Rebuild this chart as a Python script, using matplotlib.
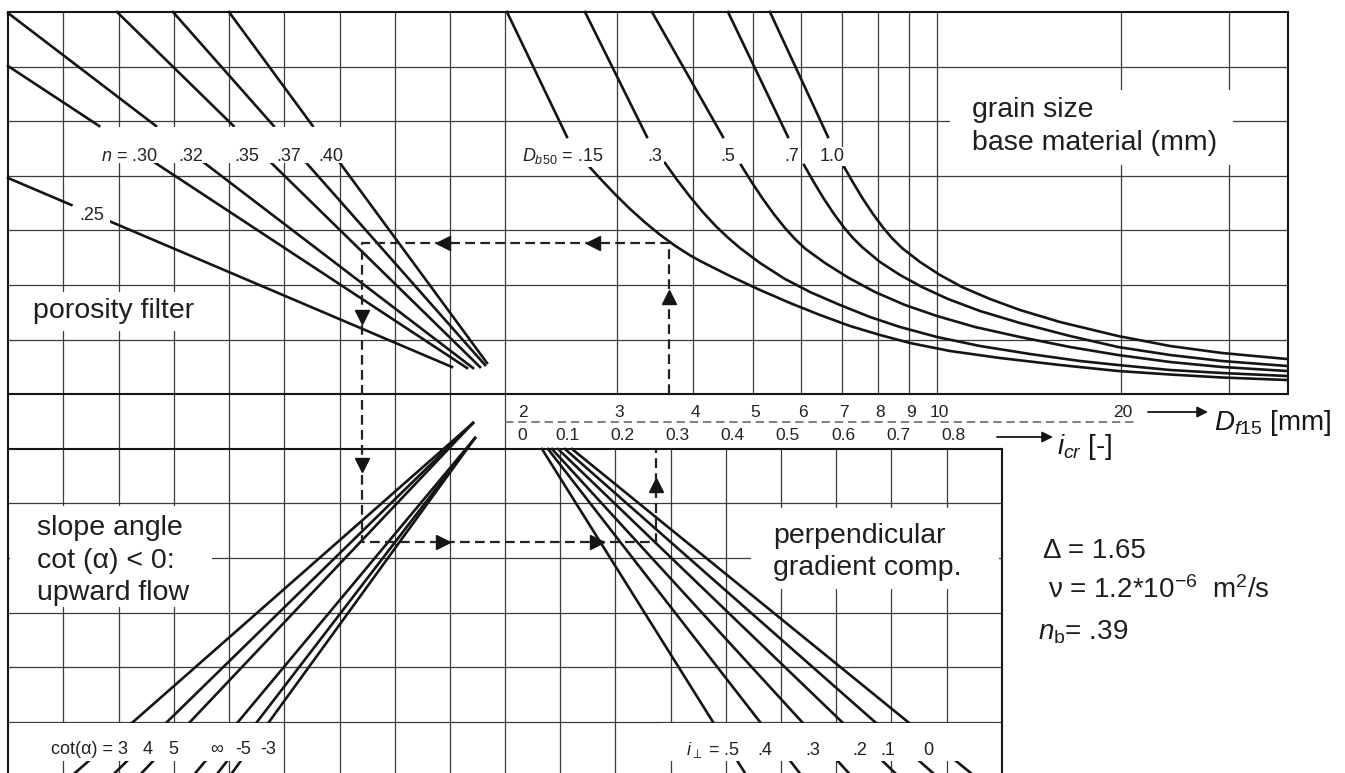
import numpy as np
import matplotlib.pyplot as plt
from matplotlib.patches import Rectangle

plt.rcParams['font.family'] = ['Liberation Sans', 'DejaVu Sans']
plt.rcParams['mathtext.fontset'] = 'custom'
plt.rcParams['mathtext.rm'] = 'Liberation Sans'
plt.rcParams['mathtext.it'] = 'Liberation Sans:italic'
plt.rcParams['mathtext.sf'] = 'Liberation Sans'
plt.rcParams['lines.scale_dashes'] = False

# ---- values (picture units, px from top left) ----

# porosity filter n: straight lines, start -> end
por_labels = ['.25', '.30', '.32', '.35', '.37', '.40']
por_x0 = [8, 8, 8, 117, 173, 229]
por_y0 = [178, 66, 13, 12, 12, 12]
por_x1 = [452, 467, 473, 480, 485, 487]
por_y1 = [367, 368, 368, 367, 365, 363]

# grain size base material D_b50 (mm); first two points are the part above the labels
db_labels = ['.15', '.3', '.5', '.7', '1.0']
db_x = [
    [507, 567, 586, 600, 615, 630, 645, 660, 675, 690, 700, 730, 760, 790, 820, 850, 880, 910, 950, 1000, 1060, 1118, 1170, 1222, 1287],
    [585, 647, 665, 677, 690, 703, 716, 728, 740, 760, 785, 810, 840, 870, 900, 937, 980, 1030, 1080, 1118, 1170, 1222, 1287],
    [652, 723, 741, 752, 763, 774, 785, 795, 805, 825, 848, 875, 905, 937, 975, 1020, 1070, 1118, 1170, 1222, 1287],
    [728, 788, 804, 814, 824, 834, 844, 853, 862, 880, 900, 922, 948, 980, 1020, 1070, 1118, 1170, 1222, 1287],
    [770, 828, 843, 853, 863, 873, 883, 892, 902, 920, 940, 962, 990, 1020, 1060, 1118, 1170, 1222, 1287],
]
db_y = [
    [12, 137, 163, 178.4, 194.2, 208.9, 222.4, 234.7, 245.7, 255.3, 260.9, 276, 290, 303, 315, 326, 335, 343, 351, 358, 365, 371, 374.5, 377.5, 380],
    [12, 137, 163, 179.8, 196.7, 212.3, 226.3, 237.7, 248, 263, 279, 292, 305, 317, 327, 337, 346, 354, 361, 365, 370, 373, 376],
    [12, 137, 165, 182.6, 199.1, 214.3, 228, 239, 248.5, 263, 277.5, 292, 305, 316, 327, 337, 347, 355, 362, 367, 371],
    [12, 137, 165, 182.5, 199, 214, 227.5, 238.1, 247, 262, 275, 287, 299, 311, 323, 336, 347, 355, 361, 366],
    [12, 137, 165, 182.5, 199, 214, 227.5, 238.1, 248, 262, 275, 287, 299, 310, 322, 336, 346, 353, 359],
]

# axes D_f15 (mm) and i_cr (-)
df_ticks = [2, 3, 4, 5, 6, 7, 8, 9, 10, 20]
df_grid = [3, 4, 5, 6, 7, 8, 9, 10, 20, 30]
icr_ticks = [0, 0.1, 0.2, 0.3, 0.4, 0.5, 0.6, 0.7, 0.8]

# slope angle cot(alpha): tip -> foot on row y=722
cot_labels = ['3', '4', '5', '\u221e', '-5', '-3']
cot_tip_x = [473, 473, 473, 475, 475, 475]
cot_tip_y = [423, 423, 423, 438, 438, 438]
cot_foot_x = [133, 167, 190, 238, 257, 269]

# perpendicular gradient component: top (y=449) -> foot (y=722)
ip_labels = ['.5', '.4', '.3', '.2', '.1', '0']
ip_top_x = [542, 548, 552, 558, 565, 572]
ip_foot_x = [713, 760, 802, 842, 875, 908]

# worked example
ex_df15 = 3.65
ex_icr = 0.26
ex_left_x = 362
ex_top_y = 243
ex_low_y = 542


def df_to_x(d):
    return 937 + 612 * np.log10(np.asarray(d, dtype=float) / 10.0)


def icr_to_x(i):
    return 512 + 552 * np.asarray(i, dtype=float)


ink = '#151515'
grid_c = '#3a3a3a'

fig = plt.figure(figsize=(13.45, 7.73), dpi=100)
ax = fig.add_axes([0, 0, 1, 1])
ax.set_xlim(0, 1345)
ax.set_ylim(773, 0)
ax.axis('off')

# grid
row_y = 12 + 54.6 * np.arange(14)
left_x = 8 + 55.25 * np.arange(10)
low_x = 505 + 55.2 * np.arange(10)
for k, y in enumerate(row_y):
    x_end = 1288 if k <= 7 else 1002
    big = k in (0, 7, 8)
    ax.plot([8, x_end], [y, y], color=ink if big else grid_c, lw=1.5 if big else 0.9,
            zorder=4 if big else 1, solid_capstyle='butt')
for k, x in enumerate(left_x):
    ax.plot([x, x], [12, 790], color=ink if k == 0 else grid_c, lw=1.5 if k == 0 else 0.9,
            zorder=4 if k == 0 else 1)
for x in df_to_x(df_grid):
    ax.plot([x, x], [12, row_y[7]], color=grid_c, lw=0.9, zorder=1)
ax.plot([1288, 1288], [12, row_y[7]], color=ink, lw=1.5, zorder=4)
for k, x in enumerate(low_x[1:]):
    last = k == len(low_x) - 2
    ax.plot([x, x], [row_y[8], 790], color=ink if last else grid_c, lw=1.5 if last else 0.9,
            zorder=4 if last else 1)

# porosity lines, broken at the label row
for k in range(len(por_labels)):
    x0, y0, x1, y1 = por_x0[k], por_y0[k], por_x1[k], por_y1[k]
    g0, g1 = (205, 221) if k == 0 else (126, 163)
    xa = x0 + (g0 - y0) / (y1 - y0) * (x1 - x0)
    xb = x0 + (g1 - y0) / (y1 - y0) * (x1 - x0)
    ax.plot([x0, xa], [y0, g0], color=ink, lw=1.9, zorder=2)
    ax.plot([xb, x1], [g1, y1], color=ink, lw=1.9, zorder=2)

# D_b50 curves
for xs, ys in zip(db_x, db_y):
    ax.plot(xs[:2], ys[:2], color=ink, lw=1.9, zorder=2)
    ax.plot(xs[2:], ys[2:], color=ink, lw=1.9, zorder=2, solid_joinstyle='round')

# slope angle lines, run past the bottom edge
for k in range(len(cot_labels)):
    tx, ty, fx = cot_tip_x[k], cot_tip_y[k], cot_foot_x[k]
    ex = tx + (fx - tx) * (790 - ty) / (722 - ty)
    ax.plot([tx, ex], [ty, 790], color=ink, lw=1.9, zorder=2)

# perpendicular gradient lines
for k in range(len(ip_labels)):
    tx, fx = ip_top_x[k], ip_foot_x[k]
    ex = tx + (fx - tx) * (790 - 449) / (722 - 449)
    ax.plot([tx, ex], [449, 790], color=ink, lw=1.9, zorder=2)

# white label boxes cutting the grid
masks = [(100, 127, 345, 163), (74, 203, 110, 225), (28, 292, 202, 331),
         (950, 90, 1233, 165), (10, 506, 212, 607), (751, 508, 999, 589),
         (10, 723, 281, 761), (662, 723, 999, 761)]
for x0, y0, x1, y1 in masks:
    ax.add_patch(Rectangle((x0, y0), x1 - x0, y1 - y0, facecolor='white',
                           edgecolor='none', zorder=3))

# worked example (dashed path with arrow heads)
px = float(df_to_x(ex_df15))
ix = float(icr_to_x(ex_icr))
path_x = [px, px, ex_left_x, ex_left_x, ix, ix]
path_y = [row_y[7], ex_top_y, ex_top_y, ex_low_y, ex_low_y, row_y[8]]
ax.plot(path_x, path_y, color='#222222', lw=1.6, dashes=(7, 3.8), zorder=4)
heads = [(px, 297, '^'), (593, ex_top_y, '<'), (443, ex_top_y, '<'),
         (ex_left_x, 317, 'v'), (ex_left_x, 465, 'v'),
         (443, ex_low_y, '>'), (597, ex_low_y, '>'), (ix, 485, '^')]
for hx, hy, m in heads:
    ax.plot(hx, hy, marker=m, ms=10, color=ink, mec=ink, zorder=5)

# D_f15 / i_cr scale in the middle band
ax.plot([505, 1138], [422, 422], color='#6a6a6a', lw=1.2, dashes=(6, 3.5), zorder=2)
for k, (d, x) in enumerate(zip(df_ticks, df_to_x(df_ticks))):
    if k == 0:
        ax.text(518, 417, str(d), fontsize=12.5, ha='left', va='baseline', color='#222')
    else:
        ax.text(x + 2, 417, str(d), fontsize=12.5, ha='center', va='baseline', color='#222')
for k, (i, x) in enumerate(zip(icr_ticks, icr_to_x(icr_ticks))):
    lab = '0' if i == 0 else '%.1f' % i
    if k == 0:
        ax.text(517, 440, lab, fontsize=12.5, ha='left', va='baseline', color='#222')
    else:
        ax.text(x, 440, lab, fontsize=12.5, ha='center', va='baseline', color='#222')

ax.annotate('', xy=(1208, 412), xytext=(1148, 412),
            arrowprops=dict(arrowstyle='-|>', color=ink, lw=1.3, mutation_scale=16,
                            shrinkA=0, shrinkB=0), zorder=5)
ax.annotate('', xy=(1053, 437), xytext=(997, 437),
            arrowprops=dict(arrowstyle='-|>', color=ink, lw=1.3, mutation_scale=16,
                            shrinkA=0, shrinkB=0), zorder=5)
ax.text(1214, 430, r'$D_{\mathit{f15}}$ [mm]', fontsize=20, va='baseline', color=ink, zorder=5)
ax.text(1057, 454, r'$i_{cr}$ [-]', fontsize=20, va='baseline', color=ink, zorder=5)

# line labels
lab_fs = 13
por_lab_x = [92, 158, 191, 247, 289, 331]
por_lab_y = [220, 161, 161, 161, 161, 161]
for k, lab in enumerate(por_labels):
    if k == 1:
        ax.text(por_lab_x[k], por_lab_y[k], r'$n$ = ' + lab, fontsize=lab_fs, ha='right',
                va='baseline', color='#222', zorder=5)
    else:
        ax.text(por_lab_x[k], por_lab_y[k], lab, fontsize=lab_fs, ha='center',
                va='baseline', color='#222', zorder=5)

db_lab_x = [522, 655, 728, 792, 832]
for k, lab in enumerate(db_labels):
    box = dict(facecolor='white', edgecolor='none', pad=1.0)
    if k == 0:
        ax.text(db_lab_x[k], 161, r'$D_{\mathit{b50}}$ = ' + lab, fontsize=lab_fs, ha='left',
                va='baseline', color='#222', zorder=5, bbox=box)
    else:
        ax.text(db_lab_x[k], 161, lab, fontsize=lab_fs, ha='center',
                va='baseline', color='#222', zorder=5, bbox=box)

cot_lab_x = [128, 148, 173, 217, 243, 268]
for k, lab in enumerate(cot_labels):
    if k == 0:
        ax.text(cot_lab_x[k], 754, 'cot(\u03b1) = ' + lab, fontsize=lab_fs, ha='right',
                va='baseline', color='#222', zorder=5)
    else:
        ax.text(cot_lab_x[k], 754, lab, fontsize=lab_fs, ha='center',
                va='baseline', color='#222', zorder=5)

ip_lab_x = [740, 765, 813, 860, 888, 928]
for k, lab in enumerate(ip_labels):
    if k == 0:
        ax.text(ip_lab_x[k], 755, r'$i_{\perp}$ = ' + lab, fontsize=lab_fs, ha='right',
                va='baseline', color='#222', zorder=5)
    else:
        ax.text(ip_lab_x[k], 755, lab, fontsize=lab_fs, ha='center',
                va='baseline', color='#222', zorder=5)

# descriptive texts
big_fs = 20.5
blocks = [
    (33, [318], ['porosity filter']),
    (972, [117, 150], ['grain size', 'base material (mm)']),
    (37, [535, 568, 600], ['slope angle', 'cot (\u03b1) < 0:', 'upward flow']),
    (773, [543, 575], ['perpendicular', 'gradient comp.']),
]
for x, ys, lines in blocks:
    for y, s in zip(ys, lines):
        ax.text(x, y, s, fontsize=big_fs, ha='left', va='baseline', color='#1e1e1e', zorder=5)

const_fs = 20
ax.text(1043, 558, '\u0394 = 1.65', fontsize=const_fs, va='baseline', color='#1e1e1e')
ax.text(1048, 598, '\u03bd = 1.2*10$^{-6}$  m$^{2}$/s', fontsize=const_fs, va='baseline', color='#1e1e1e')
ax.text(1038, 640, r'$n_{\mathrm{b}}$= .39', fontsize=const_fs, va='baseline', color='#1e1e1e')

fig.savefig('out.png', dpi=100, facecolor='white')
